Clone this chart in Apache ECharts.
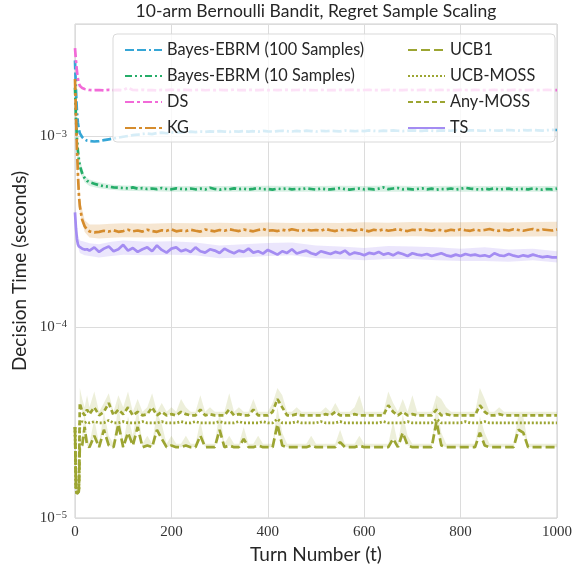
<!DOCTYPE html>
<html><head><meta charset="utf-8">
<script src="https://cdn.jsdelivr.net/npm/echarts@6/dist/echarts.min.js"></script>
<style>html,body{margin:0;padding:0;background:#fff}#c{width:578px;height:569px}</style>
</head><body><div id="c"></div>
<script>
// Turn numbers (x) shared by all line series
const turns = [0,2,4,6,8,10,15,20,25,
 30,40,50,60,70,80,90,100,110,120,
 130,140,150,160,170,180,190,200,210,220,
 230,240,250,260,270,280,290,300,310,320,
 330,340,350,360,370,380,390,400,410,420,
 430,440,450,460,470,480,490,500,510,520,
 530,540,550,560,570,580,590,600,610,620,
 630,640,650,660,670,680,690,700,710,720,
 730,740,750,760,770,780,790,800,810,820,
 830,840,850,860,870,880,890,900,910,920,
 930,940,950,960,970,980,990,1000];

// Decision times in microseconds
const ebrm100_us = [2500,1750,1350,1180,1090,1040,990,965,950,
 945,940,945,955,965,975,985,995,1005,1015,
 1020,1030,1035,1028,1040,1045,1038,1050,1046,1055,
 1050,1058,1052,1060,1055,1062,1058,1065,1060,1055,
 1062,1058,1066,1060,1064,1058,1068,1062,1060,1066,
 1070,1064,1060,1068,1062,1072,1066,1060,1068,1064,
 1070,1066,1062,1072,1068,1064,1070,1066,1074,1068,
 1066,1072,1068,1074,1070,1066,1072,1076,1070,1068,
 1074,1070,1068,1076,1072,1070,1078,1072,1068,1074,
 1076,1072,1070,1078,1074,1072,1076,1080,1074,1072,
 1078,1074,1080,1076,1072,1078,1082,1080];

const ebrm10_us = [1800,1250,980,840,760,700,640,605,585,
 575,565,555,548,545,540,538,536,534,540,
 532,535,530,533,529,536,530,528,534,531,
 529,533,528,532,527,538,530,526,531,528,
 534,529,532,527,531,536,528,530,526,532,
 529,533,527,531,528,534,530,526,532,529,
 527,531,535,529,526,530,533,528,531,527,
 532,540,529,533,536,528,531,527,530,534,
 528,532,526,530,529,533,527,531,537,532,
 529,526,531,528,533,527,530,532,526,529,
 531,527,533,528,526,530,527,532];

const ds_us = [2900,2500,2200,2000,1900,1840,1790,1770,1760,
 1750,1745,1750,1740,1755,1748,1752,1745,1800,1750,
 1748,1755,1745,1750,1742,1752,1748,1756,1745,1750,
 1752,1746,1750,1755,1744,1750,1748,1752,1746,1750,
 1755,1748,1745,1752,1750,1746,1754,1748,1750,1745,
 1750,1752,1746,1750,1755,1748,1750,1744,1752,1748,
 1750,1746,1752,1748,1755,1750,1745,1750,1752,1748,
 1746,1750,1754,1748,1750,1745,1752,1750,1748,1755,
 1750,1746,1750,1752,1748,1750,1745,1752,1750,1748,
 1752,1750,1746,1750,1754,1748,1750,1745,1752,1748,
 1750,1746,1752,1748,1750,1755,1748,1745];

const kg_us = [2000,1300,880,640,500,430,365,338,325,
 318,314,316,320,317,322,316,319,324,318,
 321,317,324,319,316,322,320,326,318,321,
 319,324,320,317,325,321,318,323,320,326,
 322,319,325,321,318,323,327,320,322,319,
 324,320,326,322,319,325,321,323,320,327,
 322,319,325,321,324,320,326,322,318,324,
 321,325,320,323,327,321,319,324,322,326,
 323,320,325,322,319,324,321,326,322,320,
 325,321,323,327,322,320,324,321,326,323,
 320,324,327,322,325,323,321,325];

const ts_us = [400,330,290,272,265,262,258,255,256,
 252,262,248,258,265,250,256,270,252,260,
 248,256,262,250,268,254,246,258,262,250,
 255,248,262,250,246,256,252,245,258,250,
 244,252,248,258,246,250,243,254,247,240,
 250,245,256,243,248,252,244,240,250,246,
 242,248,244,252,240,246,243,238,245,242,
 248,240,244,238,246,242,236,244,240,238,
 242,236,240,244,238,235,240,236,242,238,
 240,236,238,234,244,238,236,242,237,234,
 238,235,240,236,233,235,232,232];

const ucb1_us = [30,14,13.4,13.4,13.8,23.5,24,30,24,
 23.5,27,23.5,29,24,23.5,31,23.5,28,24,
 30,23.5,24,23.5,29,26,23.5,24,23.5,23.5,
 24,23.5,23.5,27,23.5,23.5,23.5,29,23.5,24,
 23.5,23.5,26,23.5,23.5,24,23.5,23.5,23.5,31,
 24,23.5,23.5,23.5,23.5,23.5,24,23.5,23.5,23.5,
 23.5,23.5,25,23.5,23.5,23.5,24,23.5,23.5,23.5,
 23.5,23.5,23.5,26,23.5,28,24,23.5,23.5,23.5,
 23.5,23.5,32,24,23.5,23.5,23.5,23.5,23.5,23.5,
 23.5,28,24,23.5,23.5,23.5,23.5,23.5,23.5,29,
 28,23.5,23.5,23.5,23.5,23.5,23.5,23.5];

const ucbmoss_us = [30,14,13.4,13.4,13.8,31.5,32,31.5,32,
 31.5,32,31.5,31.5,32.5,31.5,31.5,32,31.5,31.5,
 31.5,32,31.5,31.5,31.5,32,31.5,31.5,31.5,32,
 31.5,31.5,32,31.5,31.5,31.5,31.5,32,31.5,31.5,
 31.5,32,31.5,31.5,31.5,31.5,32,31.5,31.5,33,
 31.5,31.5,31.5,32,31.5,31.5,31.5,31.5,32,31.5,
 31.5,31.5,32,31.5,31.5,31.5,31.5,31.5,31.5,31.5,
 31.5,32,31.5,31.5,31.5,31.5,32,31.5,31.5,31.5,
 31.5,31.5,33,31.5,31.5,31.5,31.5,31.5,32,31.5,
 31.5,31.5,32,31.5,31.5,31.5,31.5,31.5,31.5,31.5,
 31.5,31.5,31.5,31.5,31.5,31.5,31.5,31.5];

const anymoss_us = [30,14,13.4,13.4,13.8,40,36,34.5,37,
 35,38,34.5,36,40,34.5,37,35,38,34.5,
 36,34.5,35,38,34.5,36,34.5,35,34.5,36,
 35,34.5,34.5,37,34.5,35,34.5,34.5,34.5,37,
 34.5,35,34.5,34.5,37,34.5,34.5,34.5,36,42,
 38,34.5,34.5,35,34.5,34.5,34.5,34.5,34.5,35,
 34.5,36,34.5,34.5,34.5,35,34.5,34.5,34.5,34.5,
 34.5,34.5,39,36,34.5,36,34.5,35,34.5,34.5,
 34.5,34.5,37,34.5,35,34.5,34.5,34.5,34.5,34.5,
 34.5,39,36,34.5,34.5,35,34.5,34.5,34.5,34.5,
 34.5,34.5,34.5,34.5,34.5,34.5,34.5,34.5];

// Upper confidence envelopes of the olive series (on `turns`), microseconds
const ucb1High_us = [32,15,14.2,14.2,14.5,26,27,36,27,
 24.5,33,24.5,36,27,24.5,40,24.5,34,27,
 38,24.5,27,24.5,36,31,24.5,27,24.5,24.5,
 27,24.5,24.5,32,24.5,24.5,24.5,36,24.5,27,
 24.5,24.5,30,24.5,24.5,27,24.5,24.5,24.5,38,
 28,24.5,24.5,24.5,24.5,24.5,27,24.5,24.5,24.5,
 24.5,24.5,29,24.5,24.5,24.5,27,24.5,24.5,24.5,
 24.5,24.5,24.5,32,24.5,35,27,24.5,24.5,24.5,
 24.5,24.5,40,28,24.5,24.5,24.5,24.5,24.5,24.5,
 24.5,34,28,24.5,24.5,24.5,24.5,24.5,24.5,35,
 34,24.5,24.5,24.5,24.5,24.5,24.5,24.5];

const anymossHigh_us = [32,15,14.2,14.2,14.5,48,42,38,44,
 38,46,36,40,45,36,44,38,46,36,
 42,36,38,45,36,40,36,38,36,42,
 38,36,36,44,36,38,36,36,36,45,
 36,38,36,36,42,36,36,36,40,48,
 44,36,36,38,36,36,36,36,36,38,
 36,40,36,36,36,38,44,36,36,36,
 36,36,46,40,36,42,36,44,36,36,
 36,36,44,42,38,36,36,36,36,36,
 36,48,42,36,36,38,36,36,36,36,
 36,36,36,36,36,36,36,36];

// Confidence bands (coarse), microseconds
const bandTurns = [0,5,10,20,30,50,75,100,150,200,250,300,350,400,450,500,550,600,650,700,750,800,850,900,950,1000];
const kgLow_us  = [1700,600,400,315,295,292,294,296,295,297,296,298,297,299,298,298,297,299,298,300,298,299,300,298,299,300];
const kgHigh_us = [2300,720,470,365,345,345,348,350,348,352,350,353,351,354,352,353,352,355,353,356,354,355,356,354,356,357];
const tsLow_us  = [370,270,245,238,236,232,236,240,238,240,238,230,232,236,238,230,228,224,228,228,224,222,222,220,224,218];
const tsHigh_us = [430,310,285,280,275,272,280,285,280,282,278,268,272,276,278,268,265,260,266,265,262,258,262,255,258,250];
const e10Low_us = [1500,740,650,575,550,535,525,518,515,512,512,513,512,512,512,513,512,513,512,512,513,512,512,512,512,512];
const e10High_us= [2100,900,760,620,595,575,560,552,550,548,550,549,550,551,550,549,551,550,552,550,549,551,550,549,550,550];

const yTicks = [1e-5, 1e-4, 1e-3];

const US = 1e-6;
const pairs = (xs, ys) => xs.map((x, i) => [x, ys[i] * US]);

const C = {
  e100: '#36a6d6', e10: '#25ad69', ds: '#f26ad8', kg: '#d58c2d', ts: '#a48cf2', olive: '#9ca532'
};

function band(name, xs, lo, hi, color, opacity) {
  return {
    type: 'custom', name: name, silent: true, z: 1,
    data: [[0]],
    renderItem: function (params, api) {
      const pts = [];
      for (let i = 0; i < xs.length; i++) pts.push(api.coord([xs[i], hi[i] * US]));
      for (let i = xs.length - 1; i >= 0; i--) pts.push(api.coord([xs[i], lo[i] * US]));
      return { type: 'polygon', shape: { points: pts }, style: { fill: color, opacity: opacity } };
    }
  };
}

function line(name, ys, color, dash, width) {
  return {
    type: 'line', name: name, data: pairs(turns, ys), showSymbol: false, symbol: 'none',
    smooth: false, z: 2,
    lineStyle: { color: color, width: width || 2.7, type: dash },
    itemStyle: { color: color }
  };
}

const chart = echarts.init(document.getElementById('c'), null, { renderer: 'canvas' });
const serif = 'Liberation Serif';
const sans = 'Lato';
const legendCommon = {
  orient: 'vertical', top: 37, itemWidth: 37, itemHeight: 14, itemGap: 10, z: 6,
  itemStyle: { opacity: 0 },
  textStyle: { fontFamily: sans, fontSize: 16.3, color: '#262626', lineHeight: 14 }
};
chart.setOption({
  animation: false,
  grid: { left: 75, right: 21, top: 24, bottom: 50, show: true, borderColor: '#cfcfcf', borderWidth: 1 },
  graphic: { elements: [
    { type: 'text', x: 316, y: 2, z: 5, style: { text: '10-arm Bernoulli Bandit, Regret Sample Scaling', font: '17.5px ' + sans, fill: '#262626', textAlign: 'center' } },
    { type: 'rect', z: 3, shape: { x: 113, y: 34, width: 442, height: 108, r: 4 }, style: { fill: 'rgba(255,255,255,0.8)', stroke: '#d9d9d9', lineWidth: 1 } }
  ] },
  xAxis: {
    type: 'value', min: 0, max: 1000, interval: 200,
    name: 'Turn Number (t)', nameLocation: 'middle', nameGap: 27,
    nameTextStyle: { fontFamily: sans, fontSize: 19, color: '#262626' },
    axisLine: { show: false }, axisTick: { show: false },
    axisLabel: { fontFamily: serif, fontSize: 15, color: '#333', margin: 7, formatter: v => String(v) },
    splitLine: { show: true, lineStyle: { color: '#dcdcdc', width: 1 } }
  },
  yAxis: {
    type: 'log', logBase: 10, min: 1e-5, max: 3.88e-3,
    name: 'Decision Time (seconds)', nameLocation: 'middle', nameGap: 46,
    nameTextStyle: { fontFamily: sans, fontSize: 19, color: '#262626' },
    axisLine: { show: false }, axisTick: { show: false }, minorTick: { show: false },
    splitLine: { show: true, lineStyle: { color: '#dcdcdc', width: 1 } },
    axisLabel: {
      margin: 8,
      formatter: function (v) {
        for (const t of yTicks) {
          if (Math.abs(v - t) / t < 1e-6) return '{b|10}{s|−' + Math.round(-Math.log10(t)) + '}';
        }
        return '';
      },
      rich: {
        b: { fontFamily: serif, fontSize: 15, color: '#333', lineHeight: 16 },
        s: { fontFamily: serif, fontSize: 10.5, color: '#333', verticalAlign: 'top', lineHeight: 16, padding: [0, 0, 6, 1] }
      }
    }
  },
  legend: [
    Object.assign({ data: ['Bayes-EBRM (100 Samples)', 'Bayes-EBRM (10 Samples)', 'DS', 'KG'], left: 119 }, legendCommon),
    Object.assign({ data: ['UCB1', 'UCB-MOSS', 'Any-MOSS', 'TS'], left: 402 }, legendCommon)
  ],
  series: [
    band('e10band', bandTurns, e10Low_us, e10High_us, C.e10, 0.18),
    band('kgband', bandTurns, kgLow_us, kgHigh_us, C.kg, 0.22),
    band('tsband', bandTurns, tsLow_us, tsHigh_us, C.ts, 0.22),
    band('ucb1band', turns, ucb1_us, ucb1High_us, C.olive, 0.18),
    band('anymossband', turns, anymoss_us, anymossHigh_us, C.olive, 0.18),
    line('Bayes-EBRM (100 Samples)', ebrm100_us, C.e100, [9, 3, 9, 3, 2, 3]),
    line('Bayes-EBRM (10 Samples)', ebrm10_us, C.e10, [7, 3, 2, 3, 2, 3]),
    line('DS', ds_us, C.ds, [9, 3, 3, 3]),
    line('KG', kg_us, C.kg, [11, 3, 3, 3]),
    line('UCB1', ucb1_us, C.olive, [9, 4]),
    line('UCB-MOSS', ucbmoss_us, C.olive, [2, 2]),
    line('Any-MOSS', anymoss_us, C.olive, [5, 3]),
    line('TS', ts_us, C.ts, 'solid')
  ]
});
</script></body></html>
